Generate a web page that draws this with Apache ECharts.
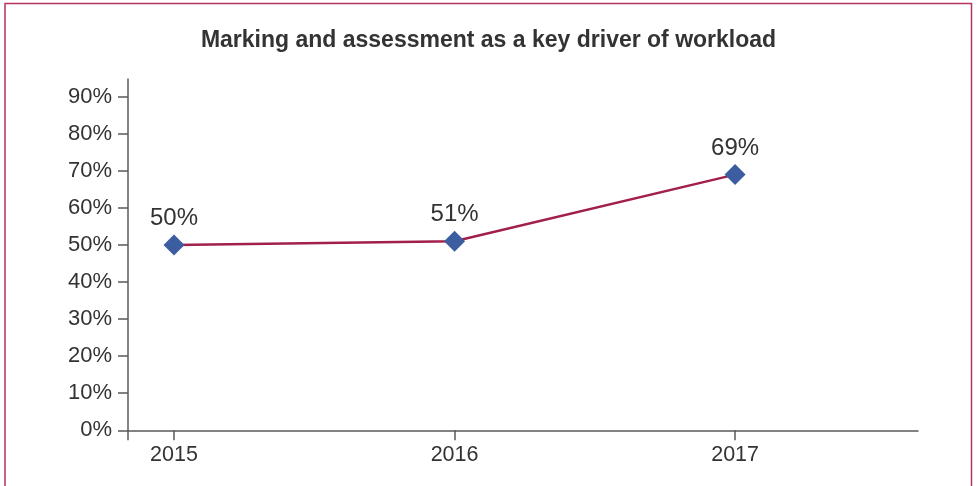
<!DOCTYPE html>
<html>
<head>
<meta charset="utf-8">
<script src="https://cdn.jsdelivr.net/npm/echarts@6/dist/echarts.min.js"></script>
<style>
  html, body { margin: 0; padding: 0; background: #fff; }
  #chart { width: 977px; height: 486px; }
</style>
</head>
<body>
<div id="chart"></div>
<script>
// Survey years and share of respondents naming marking/assessment as a key workload driver
const years = [2015, 2016, 2017];
const shares = [50, 51, 69];
const yTicks = [0, 10, 20, 30, 40, 50, 60, 70, 80, 90];

const xMin = 2014.836;
const xMax = 2017.652;

const chart = echarts.init(document.getElementById('chart'));
const axisColor = '#5a5a5a';
const textColor = '#333333';
const font = '"Liberation Sans", Arial, Helvetica, sans-serif';

chart.setOption({
  animation: false,
  backgroundColor: '#ffffff',
  textStyle: { fontFamily: font },
  title: {
    text: 'Marking and assessment as a key driver of workload',
    left: 'center',
    top: 24,
    textStyle: { fontFamily: font, fontSize: 23, fontWeight: 'bold', color: textColor }
  },
  graphic: [{
    type: 'rect',
    shape: { x: 5, y: 3.5, width: 966.5, height: 600 },
    style: { fill: 'none', stroke: '#b5335d', lineWidth: 1.5 },
    silent: true
  }],
  grid: {
    left: 128, right: 59, top: 79, bottom: 55.7,
    containLabel: false,
    outerBoundsMode: 'none'
  },
  xAxis: {
    type: 'value',
    min: xMin,
    max: xMax,
    axisLine: { show: true, lineStyle: { color: axisColor, width: 1.5 } },
    axisTick: {
      show: true, length: 10, inside: false,
      customValues: [xMin].concat(years),
      lineStyle: { color: axisColor, width: 1.5 }
    },
    axisLabel: {
      customValues: years,
      formatter: v => String(Math.round(v)),
      margin: 14,
      fontSize: 21.5,
      color: textColor,
      fontFamily: font
    },
    splitLine: { show: false }
  },
  yAxis: {
    type: 'value',
    min: 0,
    max: 94.8,
    axisLine: { show: true, lineStyle: { color: axisColor, width: 1.5 } },
    axisTick: {
      show: true, length: 10, inside: false,
      customValues: yTicks,
      lineStyle: { color: axisColor, width: 1.5 }
    },
    axisLabel: {
      customValues: yTicks,
      formatter: v => Math.round(v) + '%',
      margin: 16,
      fontSize: 22,
      color: textColor,
      fontFamily: font
    },
    splitLine: { show: false }
  },
  series: [{
    type: 'line',
    data: years.map((y, i) => [y, shares[i]]),
    symbol: 'diamond',
    symbolSize: 21,
    lineStyle: { color: '#a31f4b', width: 2.5 },
    itemStyle: { color: '#3c5ea1' },
    label: {
      show: true,
      position: 'top',
      distance: 4,
      formatter: p => p.value[1] + '%',
      fontSize: 24,
      color: textColor,
      fontFamily: font
    },
    z: 3
  }]
});
</script>
</body>
</html>
